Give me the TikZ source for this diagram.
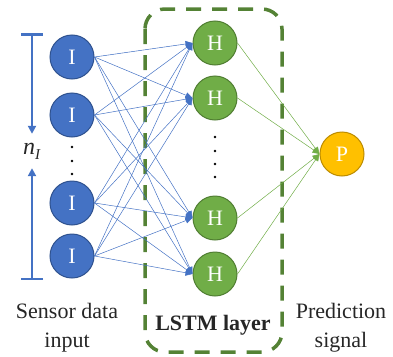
\documentclass[tikz,border=0pt]{standalone}
\usepackage{fontspec}
\setmainfont{Liberation Serif}
\setsansfont{Liberation Serif}
\usepackage{tikz}
\usetikzlibrary{arrows.meta, positioning}
\definecolor{inblue}{RGB}{68,114,196}
\definecolor{inblueedge}{RGB}{47,82,143}
\definecolor{hidgreen}{RGB}{112,173,71}
\definecolor{hidgreenedge}{RGB}{80,126,50}
\definecolor{boxgreen}{RGB}{84,130,53}
\definecolor{predyellow}{RGB}{255,192,0}
\definecolor{predyellowedge}{RGB}{188,140,0}
\definecolor{txtgray}{RGB}{38,38,38}

\begin{document}
\begin{tikzpicture}[
    x=1pt, y=-1pt,
    neuron/.style={circle, minimum size=44pt, inner sep=0pt, line width=1pt, text=white, font=\rmfamily\fontsize{22}{26}\selectfont},
    inode/.style={neuron, fill=inblue, draw=inblueedge},
    hnode/.style={neuron, fill=hidgreen, draw=hidgreenedge},
    pnode/.style={neuron, fill=predyellow, draw=predyellowedge},
    iarr/.style={-{Triangle[length=7pt,width=6pt]}, inblue, line width=0.5pt},
    harr/.style={-{Triangle[length=7pt,width=6pt]}, hidgreen, line width=0.5pt},
    lbl/.style={font=\rmfamily\fontsize{22}{29}\selectfont, text=txtgray, align=center},
    lstmbox/.style={draw=boxgreen, line width=3.5pt, dash pattern=on 15pt off 11pt, rounded corners=20pt},
  ]
  \useasboundingbox (0,0) rectangle (393,356);
  % LSTM layer frame
  \draw[lstmbox] (145,9) rectangle (282,352);
  % input column
  \node[inode] (i1) at (72,57) {I};
  \node[inode, below=13pt of i1] (i2) {I};
  \node[inode] (i4) at (72,256) {I};
  \node[inode, above=8pt of i4] (i3) {I};
  \foreach \y in {147,161,174} \fill[black] (72,\y) circle (1.3);
  % hidden column
  \node[hnode] (h1) at (215,43) {H};
  \node[hnode, below=10pt of h1] (h2) {H};
  \node[hnode] (h4) at (215,274) {H};
  \node[hnode, above=11pt of h4] (h3) {H};
  \foreach \y in {137,151,164,177} \fill[black] (215,\y) circle (1.3);
  % output
  \node[pnode] (p) at (342,154) {P};
  % connections
  \foreach \a in {1,...,4}
    \foreach \b in {1,...,4}
      \draw[iarr] (i\a.east) -- (h\b.west);
  \foreach \b in {1,...,4}
    \draw[harr] (h\b.east) -- (p.west);
  % n_I span
  \node[minimum height=34pt, inner sep=0pt, text=txtgray, font=\rmfamily\fontsize{24}{26}\selectfont] (nlbl) at (32,151) {\textit{n}\raisebox{-5pt}{\fontsize{15}{15}\selectfont\textit{I}}};
  \coordinate (ntop) at (32,33);
  \coordinate (nbot) at (32,280);
  \draw[{Bar[width=22pt]}-{Triangle[length=8pt,width=8pt]}, inblue, line width=2.5pt] (ntop) -- (nlbl.north);
  \draw[{Bar[width=22pt]}-{Triangle[length=8pt,width=8pt]}, inblue, line width=2.5pt] (nbot) -- (nlbl.south);
  % captions
  \node[lbl] (sensor) at (67,328) {Sensor data\\input};
  \node[lbl, font=\rmfamily\fontsize{22}{29}\selectfont\bfseries] (lstm) at (213,325) {LSTM layer};
  \node[lbl] (pred) at (341,328) {Prediction\\signal};
\end{tikzpicture}
\end{document}
